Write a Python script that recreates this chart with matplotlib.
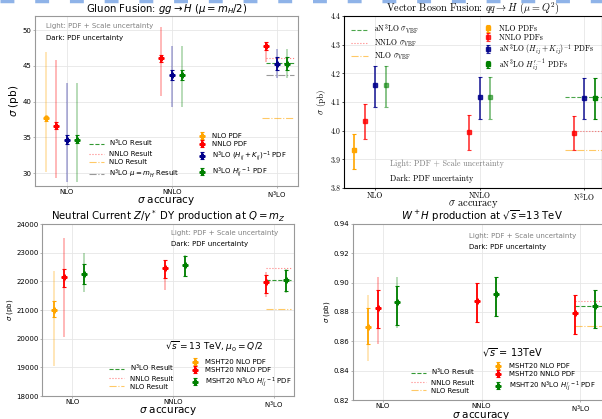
import matplotlib
matplotlib.use('Agg')
import matplotlib.pyplot as plt
from matplotlib.lines import Line2D

# ---- data ----
orders = ['NLO', 'NNLO', 'N$^3$LO']

# gluon fusion (pb): centre, light lo/hi (PDF+scale), dark lo/hi (PDF)
ggh_nlo_c = [37.7]
ggh_nlo_light = ([30.2], [47.0])
ggh_nlo_dark = ([37.35], [38.05])
ggh_nnlo_c = [36.65, 46.15, 47.75]
ggh_nnlo_light = ([29.3, 40.8, 45.6], [45.8, 50.5, 48.3])
ggh_nnlo_dark = ([36.2, 45.6, 47.2], [37.1, 46.6, 48.3])
ggh_hk_c = [34.7, 43.75, 45.3]
ggh_hk_light = ([28.8, 39.2, 43.35], [42.6, 47.75, 47.4])
ggh_hk_dark = ([34.1, 43.0, 44.5], [35.3, 44.5, 46.2])
ggh_h_c = [34.7, 43.75, 45.3]
ggh_h_light = ([28.8, 39.2, 43.35], [42.6, 47.75, 47.4])
ggh_h_dark = ([34.2, 43.0, 44.5], [35.3, 44.5, 46.2])
ggh_n3lo_res = 45.35
ggh_nnlo_res = 46.15
ggh_nlo_res = 37.75
ggh_n3lo_mh_res = 43.8

# vector boson fusion (pb): centre, lo, hi
vbf_nlo_c = [3.931]
vbf_nlo_err = ([3.867], [3.988])
vbf_nnlo_c = [4.035, 3.997, 3.993]
vbf_nnlo_err = ([3.970, 3.933, 3.931], [4.093, 4.053, 4.050])
vbf_hk_c = [4.158, 4.119, 4.115]
vbf_hk_err = ([4.081, 4.042, 4.040], [4.225, 4.186, 4.182])
vbf_h_c = [4.158, 4.119, 4.115]
vbf_h_err = ([4.081, 4.042, 4.040], [4.225, 4.186, 4.182])
vbf_n3lo_res = 4.116
vbf_nnlo_res = 3.998
vbf_nlo_res = 3.932

# neutral current DY (pb)
dy_nlo_c = [21006]
dy_nlo_light = ([19030], [22350])
dy_nlo_dark = ([20740], [21300])
dy_nnlo_c = [22148, 22450, 21961]
dy_nnlo_light = ([20060, 21700, 21470], [23510, 22740, 22310])
dy_nnlo_dark = ([21790, 22100, 21610], [22416, 22740, 22230])
dy_h_c = [22270, 22567, 22054]
dy_h_light = ([21640, 22190, 21610], [22980, 22920, 22430])
dy_h_dark = ([21900, 22200, 21670], [22600, 22900, 22390])
dy_n3lo_res = 22054
dy_nnlo_res = 22450
dy_nlo_res = 21030

# W+H (pb)
wh_nlo_c = [0.8700]
wh_nlo_light = ([0.8468], [0.8916])
wh_nlo_dark = ([0.8582], [0.8825])
wh_nnlo_c = [0.8830, 0.8873, 0.8791]
wh_nnlo_light = ([0.8582, 0.8730, 0.8650], [0.9041, 0.8995, 0.8916])
wh_nnlo_dark = ([0.8691, 0.8730, 0.8650], [0.8950, 0.8995, 0.8916])
wh_h_c = [0.8870, 0.8920, 0.8841]
wh_h_light = ([0.8689, 0.8770, 0.8691], [0.9036, 0.9036, 0.8952])
wh_h_dark = ([0.8714, 0.8770, 0.8691], [0.8980, 0.9036, 0.8952])
wh_n3lo_res = 0.8839
wh_nnlo_res = 0.8873
wh_nlo_res = 0.8702

W, H = 602, 419
fig = plt.figure(figsize=(W / 100, H / 100), dpi=100)


def px_axes(l, t, r, b):
    return fig.add_axes([l / W, 1 - b / H, (r - l) / W, (b - t) / H])


def pts(ax, xs, c, light, dark, color, label, ms=3.5, lw_l=1.3, alpha_l=0.3):
    lo, hi = light
    ax.errorbar(xs, c, yerr=[[m - a for m, a in zip(c, lo)], [b - m for m, b in zip(c, hi)]],
                fmt='none', ecolor=color, alpha=alpha_l, elinewidth=lw_l, zorder=2)
    lo, hi = dark
    ax.errorbar(xs, c, yerr=[[m - a for m, a in zip(c, lo)], [b - m for m, b in zip(c, hi)]],
                fmt='P', color=color, ms=ms, elinewidth=lw_l, capsize=1.2, capthick=0.8,
                label=label, zorder=3)


def style(ax, fs, spine='#999999'):
    ax.set_xlim(-0.3, 2.2)
    ax.set_xticks(range(3))
    ax.set_xticklabels(orders)
    ax.grid(color='#e6e6e6', lw=0.6)
    ax.set_axisbelow(True)
    ax.tick_params(labelsize=fs, length=1.5, width=0.5, pad=1, color=spine)
    for s in ax.spines.values():
        s.set_color(spine)
        s.set_linewidth(0.8)


def xlab(ax, text, y, **kw):
    ax.set_xlabel(text, fontsize=7.5, **kw)
    ax.xaxis.set_label_coords(0.5, y)
    ax.xaxis.label.set_va('center')


# ---- panel 1: gluon fusion ----
ax1 = px_axes(35, 16, 298, 186)
style(ax1, 5)
ax1.set_ylim(28.2, 52)
ax1.set_yticks([30, 35, 40, 45, 50])
pts(ax1, [-0.2], ggh_nlo_c, ggh_nlo_light, ggh_nlo_dark, 'orange', 'NLO PDF')
pts(ax1, [-0.1, 0.9, 1.9], ggh_nnlo_c, ggh_nnlo_light, ggh_nnlo_dark, 'red', 'NNLO PDF')
pts(ax1, [0, 1, 2], ggh_hk_c, ggh_hk_light, ggh_hk_dark, 'darkblue',
    r'N$^3$LO $(H_{ij}+K_{ij})^{-1}$ PDF')
pts(ax1, [0.1, 1.1, 2.1], ggh_h_c, ggh_h_light, ggh_h_dark, 'green',
    r'N$^3$LO $H_{ij}^{\prime\ -1}$ PDF')
l1 = [ax1.plot([1.9, 2.16], [ggh_n3lo_res] * 2, '--', color='green', lw=0.8, alpha=0.8,
               label='N$^3$LO Result')[0],
      ax1.plot([1.9, 2.16], [ggh_nnlo_res] * 2, ':', color='red', lw=0.8, alpha=0.5,
               label='NNLO Result')[0],
      ax1.plot([1.86, 2.16], [ggh_nlo_res] * 2, '-.', color='orange', lw=0.8, alpha=0.6,
               label='NLO Result')[0],
      ax1.plot([1.9, 2.16], [ggh_n3lo_mh_res] * 2, '-.', color='gray', lw=0.8, alpha=0.8,
               label=r'N$^3$LO $\mu=m_H$ Result')[0]]
h, lab = ax1.get_legend_handles_labels()
eb = [x for x in h if not isinstance(x, Line2D)]
leg = ax1.legend(l1, [x.get_label() for x in l1], loc='lower left', bbox_to_anchor=(0.18, 0.0),
                 fontsize=5, frameon=False, labelspacing=0.3, handlelength=2.2)
ax1.add_artist(leg)
ax1.legend(eb, [x.get_label() for x in eb], loc='lower left', bbox_to_anchor=(0.59, 0.0),
           fontsize=5, frameon=False, labelspacing=0.3, handlelength=1.5)
ax1.set_title(r'Gluon Fusion: $gg \to H$ ($\mu = m_H/2$)', fontsize=7.3, pad=0)
ax1.set_ylabel(r'$\sigma$ (pb)', fontsize=7.5, labelpad=1)
xlab(ax1, r'$\sigma$ accuracy', -0.088)
ax1.text(0.04, 0.96, 'Light: PDF + Scale uncertainty', color='gray', fontsize=5,
         transform=ax1.transAxes, va='top')
ax1.text(0.04, 0.89, 'Dark: PDF uncertainty', color='black', fontsize=5,
         transform=ax1.transAxes, va='top')

# ---- panel 2: VBF (serif) ----
serif = dict(family=['cmr10', 'DejaVu Serif'], math_fontfamily='cm')
ax2 = px_axes(344, 16, 602, 188)
style(ax2, 5.5, spine='black')
ax2.set_xlim(-0.3, 2.17)
ax2.set_ylim(3.8, 4.4)
ax2.set_yticks([3.8, 3.9, 4.0, 4.1, 4.2, 4.3, 4.4])
ax2.set_yticklabels(['3.8', '3.9', '4.0', '4.1', '4.2', '4.3', '4.4'])
for t in ax2.get_xticklabels() + ax2.get_yticklabels():
    t.set_fontfamily(serif['family'])
    t.set_math_fontfamily('cm')


def vbf_pts(xs, c, err, color, label, alpha=1.0):
    lo, hi = err
    return ax2.errorbar(xs, c, yerr=[[m - a for m, a in zip(c, lo)], [b - m for m, b in zip(c, hi)]],
                        fmt='s', color=color, ms=2.5, elinewidth=1.2, capsize=1.2, capthick=0.8,
                        alpha=alpha, label=label, zorder=3)


vbf_pts([-0.2], vbf_nlo_c, vbf_nlo_err, 'orange', 'NLO PDFs')
vbf_pts([-0.1, 0.9, 1.9], vbf_nnlo_c, vbf_nnlo_err, 'red', 'NNLO PDFs', alpha=0.8)
vbf_pts([0, 1, 2], vbf_hk_c, vbf_hk_err, 'darkblue', r'aN$^3$LO $(H_{ij}+K_{ij})^{-1}$ PDFs', alpha=0.85)
vbf_pts([0.1, 1.1], vbf_h_c[:2], ([vbf_h_err[0][0], vbf_h_err[0][1]], [vbf_h_err[1][0], vbf_h_err[1][1]]),
        'green', None, alpha=0.55)
vbf_pts([2.1], vbf_h_c[2:], ([vbf_h_err[0][2]], [vbf_h_err[1][2]]), 'green',
        r"aN$^3$LO $H_{ij}^{\prime\,-1}$ PDFs")
l2 = [ax2.plot([1.82, 2.17], [vbf_n3lo_res] * 2, '--', color='green', lw=0.8, alpha=0.7,
               label=r'aN$^3$LO $\sigma_{\rm VBF}$')[0],
      ax2.plot([1.9, 2.17], [vbf_nnlo_res] * 2, ':', color='red', lw=0.8, alpha=0.5,
               label=r'NNLO $\sigma_{\rm VBF}$')[0],
      ax2.plot([1.82, 2.17], [vbf_nlo_res] * 2, '-.', color='orange', lw=0.8, alpha=0.6,
               label=r'NLO $\sigma_{\rm VBF}$')[0]]
h, lab = ax2.get_legend_handles_labels()
eb = [x for x in h if not isinstance(x, Line2D)]
leg = ax2.legend(l2, [x.get_label() for x in l2], loc='upper left', bbox_to_anchor=(0.0, 1.0),
                 prop=dict(size=5.6, **serif), frameon=False, labelspacing=0.12, handlelength=2.2)
ax2.add_artist(leg)
ax2.legend(eb, [x.get_label() for x in eb], loc='upper left', bbox_to_anchor=(0.51, 0.99),
           prop=dict(size=5.6, **serif), frameon=False, labelspacing=0.05, handlelength=1.5,
           handletextpad=0.6)
ax2.set_title(r'Vector Boson Fusion: $qq \to H$ ($\mu = Q^2$)', fontsize=7.3, pad=0.5, **serif)
ax2.set_ylabel(r'$\sigma$ (pb)', fontsize=6.5, labelpad=2, **serif)
xlab(ax2, r'$\sigma$ accuracy', -0.094, **serif)
ax2.text(0.18, 0.14, 'Light: PDF + Scale uncertainty', color='gray', fontsize=5.8,
         transform=ax2.transAxes, va='center', **serif)
ax2.text(0.18, 0.055, 'Dark: PDF uncertainty', color='black', fontsize=5.8,
         transform=ax2.transAxes, va='center', **serif)

# ---- panel 3: neutral current DY ----
ax3 = px_axes(42, 224, 294, 396)
style(ax3, 5)
ax3.set_ylim(18000, 24000)
ax3.set_yticks(range(18000, 24001, 1000))
pts(ax3, [-0.18], dy_nlo_c, dy_nlo_light, dy_nlo_dark, 'orange', 'MSHT20 NLO PDF')
pts(ax3, [-0.08, 0.92, 1.92], dy_nnlo_c, dy_nnlo_light, dy_nnlo_dark, 'red', 'MSHT20 NNLO PDF')
pts(ax3, [0.12, 1.12, 2.12], dy_h_c, dy_h_light, dy_h_dark, 'green',
    r'MSHT20 N$^3$LO $H_{ij}^{\prime\ -1}$ PDF')
l3 = [ax3.plot([1.92, 2.17], [dy_n3lo_res] * 2, '--', color='green', lw=0.8, alpha=0.8,
               label='N$^3$LO Result')[0],
      ax3.plot([1.92, 2.17], [dy_nnlo_res] * 2, ':', color='red', lw=0.8, alpha=0.5,
               label='NNLO Result')[0],
      ax3.plot([1.92, 2.17], [dy_nlo_res] * 2, '-.', color='orange', lw=0.8, alpha=0.6,
               label='NLO Result')[0]]
h, lab = ax3.get_legend_handles_labels()
eb = [x for x in h if not isinstance(x, Line2D)]
leg = ax3.legend(l3, [x.get_label() for x in l3], loc='lower left', bbox_to_anchor=(0.24, 0.0),
                 fontsize=5, frameon=False, labelspacing=0.3, handlelength=2.2)
ax3.add_artist(leg)
ax3.legend(eb, [x.get_label() for x in eb], loc='lower left', bbox_to_anchor=(0.56, 0.0),
           fontsize=5, frameon=False, labelspacing=0.3, handlelength=1.5)
ax3.set_title(r'Neutral Current $Z/\gamma^*$ DY production at $Q = m_Z$', fontsize=7.3, pad=0)
ax3.set_ylabel(r'$\sigma$ (pb)', fontsize=5, labelpad=1)
xlab(ax3, r'$\sigma$ accuracy', -0.087)
ax3.text(0.51, 0.95, 'Light: PDF + Scale uncertainty', color='gray', fontsize=5,
         transform=ax3.transAxes, va='center')
ax3.text(0.51, 0.885, 'Dark: PDF uncertainty', color='black', fontsize=5,
         transform=ax3.transAxes, va='center')
ax3.text(0.49, 0.285, r'$\sqrt{s} = 13$ TeV, $\mu_0 = Q/2$', fontsize=6.5,
         transform=ax3.transAxes, va='center')

# ---- panel 4: W+H ----
ax4 = px_axes(353, 224, 610, 400)
style(ax4, 5)
ax4.set_xlim(-0.3, 2.3)
ax4.set_ylim(0.82, 0.94)
ax4.set_yticks([0.82, 0.84, 0.86, 0.88, 0.90, 0.92, 0.94])
pts(ax4, [-0.15], wh_nlo_c, wh_nlo_light, wh_nlo_dark, 'orange', 'MSHT20 NLO PDF')
pts(ax4, [-0.05, 0.95, 1.95], wh_nnlo_c, wh_nnlo_light, wh_nnlo_dark, 'red', 'MSHT20 NNLO PDF')
pts(ax4, [0.15, 1.15, 2.15], wh_h_c, wh_h_light, wh_h_dark, 'green',
    r'MSHT20 N$^3$LO $H_{ij}^{\prime\ -1}$ PDF')
l4 = [ax4.plot([1.95, 2.3], [wh_n3lo_res] * 2, '--', color='green', lw=0.8, alpha=0.8,
               label='N$^3$LO Result')[0],
      ax4.plot([1.95, 2.3], [wh_nnlo_res] * 2, ':', color='red', lw=0.8, alpha=0.5,
               label='NNLO Result')[0],
      ax4.plot([1.95, 2.3], [wh_nlo_res] * 2, '-.', color='orange', lw=0.8, alpha=0.6,
               label='NLO Result')[0]]
h, lab = ax4.get_legend_handles_labels()
eb = [x for x in h if not isinstance(x, Line2D)]
leg = ax4.legend(l4, [x.get_label() for x in l4], loc='lower left', bbox_to_anchor=(0.2, 0.0),
                 fontsize=5, frameon=False, labelspacing=0.3, handlelength=2.2)
ax4.add_artist(leg)
ax4.legend(eb, [x.get_label() for x in eb], loc='lower left', bbox_to_anchor=(0.52, 0.0),
           fontsize=5, frameon=False, labelspacing=0.3, handlelength=1.5)
ax4.set_title(r'$W^+H$ production at $\sqrt{s}$=13 TeV', fontsize=7.3, pad=0)
ax4.set_ylabel(r'$\sigma$ (pb)', fontsize=5, labelpad=1)
xlab(ax4, r'$\sigma$ accuracy', -0.088)
ax4.text(0.45, 0.93, 'Light: PDF + Scale uncertainty', color='gray', fontsize=5,
         transform=ax4.transAxes, va='center')
ax4.text(0.45, 0.87, 'Dark: PDF uncertainty', color='black', fontsize=5,
         transform=ax4.transAxes, va='center')
ax4.text(0.5, 0.27, r'$\sqrt{s}$ = 13TeV', fontsize=7,
         transform=ax4.transAxes, va='center')

# dashed blue strip along the top edge
fig.add_artist(Line2D([0, 1], [1 - 1.5 / H] * 2, transform=fig.transFigure,
                      color='#8fb3e8', lw=2.5, ls=(0, (4, 6))))

fig.savefig('out.png', dpi=100)
